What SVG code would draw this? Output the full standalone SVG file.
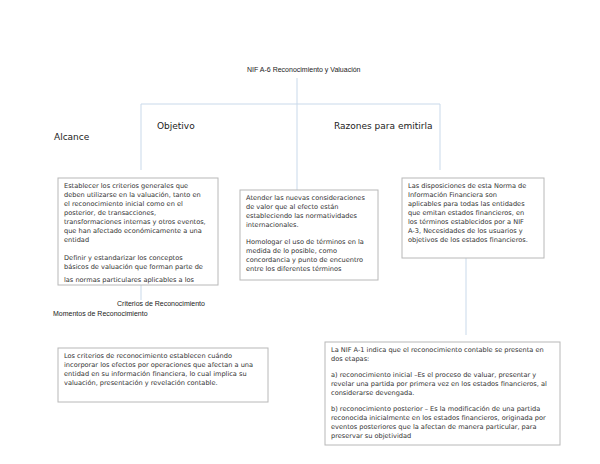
<svg xmlns="http://www.w3.org/2000/svg" width="600" height="464" viewBox="0 0 600 464">
<style>
.ln{stroke:#c9d9ea;stroke-width:1;fill:none}
.bx{fill:#fff;stroke:#b8b8b8;stroke-width:1}
.t{font-family:"DejaVu Sans",sans-serif;font-size:6.6px;fill:#333}
.h{font-family:"DejaVu Sans",sans-serif;font-size:9px;fill:#222}
.s{font-family:"Liberation Sans",sans-serif;font-size:7px;fill:#222}
</style>
<rect width="600" height="464" fill="#fff"/>
<g id="connectors">
<path class="ln" d="M297 78V190M141 104H440M141 104V170M440 104V170M466 258V335M141 285V300"/>
</g>
<g id="title"><text class="s" x="247" y="72">NIF A-6 Reconocimiento y Valuación</text></g>
<g id="alcance"><text class="h" x="54" y="140">Alcance</text></g>
<g id="objetivo"><rect x="150" y="118" width="60" height="14" fill="#fff"/><text class="h" x="157" y="129">Objetivo</text></g>
<g id="razones"><rect x="330" y="118" width="100" height="14" fill="#fff"/><text class="h" x="334" y="129">Razones para emitirla</text></g>
<g id="box1"><clipPath id="c1"><rect x="58" y="178" width="160" height="107"/></clipPath><rect class="bx" x="58" y="178" width="160" height="107"/>
<g clip-path="url(#c1)" class="t"><text x="64" y="188">Establecer los criterios generales que</text><text x="64" y="197">deben utilizarse en la valuación, tanto en</text><text x="64" y="206">el reconocimiento inicial como en el</text><text x="64" y="215">posterior, de transacciones,</text><text x="64" y="224">transformaciones internas y otros eventos,</text><text x="64" y="233">que han afectado económicamente a una</text><text x="64" y="242">entidad</text><text x="64" y="260">Definir y estandarizar los conceptos</text><text x="64" y="269">básicos de valuación que forman parte de</text><text x="64" y="282">las normas particulares aplicables a los</text></g></g>
<g id="box2"><rect class="bx" x="240" y="190" width="138" height="90"/><g class="t"><text x="246" y="200">Atender las nuevas consideraciones</text><text x="246" y="209">de valor que al efecto están</text><text x="246" y="218">estableciendo las normatividades</text><text x="246" y="227">internacionales.</text><text x="246" y="244">Homologar el uso de términos en la</text><text x="246" y="253">medida de lo posible, como</text><text x="246" y="262">concordancia y punto de encuentro</text><text x="246" y="271">entre los diferentes términos</text></g></g>
<g id="box3"><rect class="bx" x="402" y="178" width="142" height="80"/><g class="t"><text x="408" y="188">Las disposiciones de esta Norma de</text><text x="408" y="197">Información Financiera son</text><text x="408" y="206">aplicables para todas las entidades</text><text x="408" y="215">que emitan estados financieros, en</text><text x="408" y="224">los términos establecidos por a NIF</text><text x="408" y="233">A-3, Necesidades de los usuarios y</text><text x="408" y="242">objetivos de los estados financieros.</text></g></g>
<g id="criterios"><text class="s" x="117" y="306">Criterios de Reconocimiento</text></g>
<g id="momentos"><text class="s" x="53" y="316">Momentos de Reconocimiento</text></g>
<g id="box4"><rect class="bx" x="58" y="348" width="210" height="54"/><g class="t"><text x="64" y="358">Los criterios de reconocimiento establecen cuándo</text><text x="64" y="367">incorporar los efectos por operaciones que afectan a una</text><text x="64" y="376">entidad en su información financiera, lo cual implica su</text><text x="64" y="385">valuación, presentación y revelación contable.</text></g></g>
<g id="box5"><rect class="bx" x="325" y="342" width="235" height="103"/><g class="t"><text x="331" y="352">La NIF A-1 indica que el reconocimiento contable se presenta en</text><text x="331" y="361">dos etapas:</text><text x="331" y="377">a) reconocimiento inicial –Es el proceso de valuar, presentar y</text><text x="331" y="386">revelar una partida por primera vez en los estados financieros, al</text><text x="331" y="395">considerarse devengada.</text><text x="331" y="411">b) reconocimiento posterior – Es la modificación de una partida</text><text x="331" y="420">reconocida inicialmente en los estados financieros, originada por</text><text x="331" y="429">eventos posteriores que la afectan de manera particular, para</text><text x="331" y="438">preservar su objetividad</text></g></g>
</svg>
